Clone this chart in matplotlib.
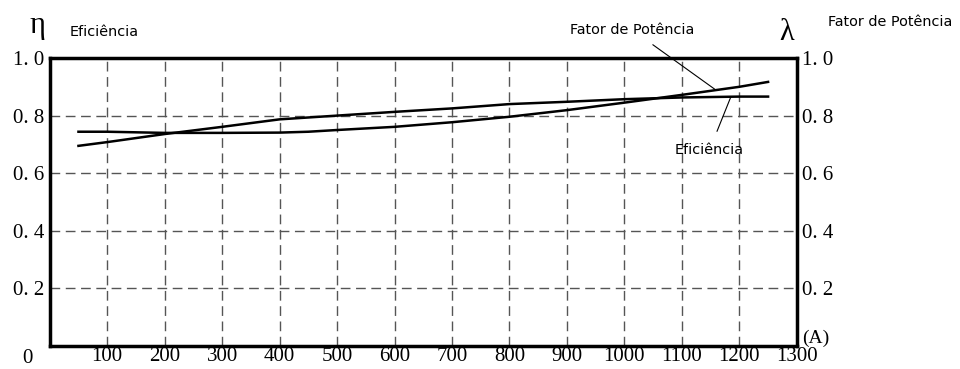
import matplotlib
matplotlib.use("Agg")
import matplotlib.pyplot as plt

# Data
current = [50, 100, 200, 300, 400, 500, 600, 700, 800, 900, 1000, 1100, 1200, 1250]
eficiencia = [0.695, 0.708, 0.736, 0.761, 0.787, 0.800, 0.813, 0.825, 0.840, 0.848, 0.857, 0.863, 0.866, 0.866]
pf_current = [50, 100, 200, 300, 400, 450, 500, 600, 700, 800, 900, 1000, 1100, 1200, 1250]
fator_potencia = [0.744, 0.744, 0.740, 0.740, 0.741, 0.744, 0.750, 0.761, 0.777, 0.796, 0.819, 0.845, 0.872, 0.900, 0.917]

x_ticks = [100, 200, 300, 400, 500, 600, 700, 800, 900, 1000, 1100, 1200, 1300]
y_ticks = [0.2, 0.4, 0.6, 0.8, 1.0]
y_tick_labels = ["0. 2", "0. 4", "0. 6", "0. 8", "1. 0"]

serif = "Liberation Serif"
sans = "DejaVu Sans"

fig = plt.figure(figsize=(9.6, 3.69), dpi=100)
ax = fig.add_axes([0.0518, 0.0623, 0.7782, 0.7805])
ax.set_xlim(0, 1300)
ax.set_ylim(0, 1.0)

# grid
for xv in x_ticks[:-1]:
    ax.axvline(xv, color="#555555", lw=1.0, ls=(0, (7, 4)), zorder=1)
for yv in y_ticks[:-1]:
    ax.axhline(yv, color="#555555", lw=1.0, ls=(0, (7, 4)), zorder=1)

ax.plot(current, eficiencia, color="black", lw=1.8, zorder=3)
ax.plot(pf_current, fator_potencia, color="black", lw=1.8, zorder=3)

for s in ax.spines.values():
    s.set_linewidth(2.5)
    s.set_color("black")

ax.set_xticks(x_ticks)
ax.set_xticklabels([str(v) for v in x_ticks], fontfamily=serif, fontsize=15)
ax.set_yticks(y_ticks)
ax.set_yticklabels(y_tick_labels, fontfamily=serif, fontsize=15)
ax.tick_params(axis="both", length=0, pad=3)
ax.tick_params(axis="y", labelright=True, right=False, pad=4)
ax.tick_params(axis="x", pad=1)

# corner zero label
ax.text(-38, -0.012, "0", fontfamily=serif, fontsize=15, ha="center", va="top",
        clip_on=False)
ax.text(1310, 0.027, "(A)", fontfamily=serif, fontsize=14, ha="left", va="center", clip_on=False)

# axis symbols and titles
fig.text(37/960, 1-25/369, "η", fontfamily=serif, fontsize=22, ha="center", va="center")
fig.text(104/960, 1-32/369, "Eficiência", fontfamily=sans, fontsize=10.4, ha="center", va="center")
fig.text(787/960, 1-33/369, "λ", fontfamily=serif, fontsize=22, ha="center", va="center")
fig.text(890/960, 1-22/369, "Fator de Potência", fontfamily=sans, fontsize=10.4, ha="center", va="center")

# annotations
ax.annotate("Fator de Potência", xy=(1157, 0.892), xytext=(1014, 1.097),
            fontfamily=sans, fontsize=10.4, ha="center", va="center",
            arrowprops=dict(arrowstyle="-", color="black", lw=0.8, shrinkA=6, shrinkB=0),
            annotation_clip=False)
ax.annotate("Eficiência", xy=(1185, 0.864), xytext=(1148, 0.68),
            fontfamily=sans, fontsize=10.4, ha="center", va="center",
            arrowprops=dict(arrowstyle="-", color="black", lw=0.8, shrinkA=7, shrinkB=0),
            annotation_clip=False)

fig.savefig("out.png", dpi=100)
